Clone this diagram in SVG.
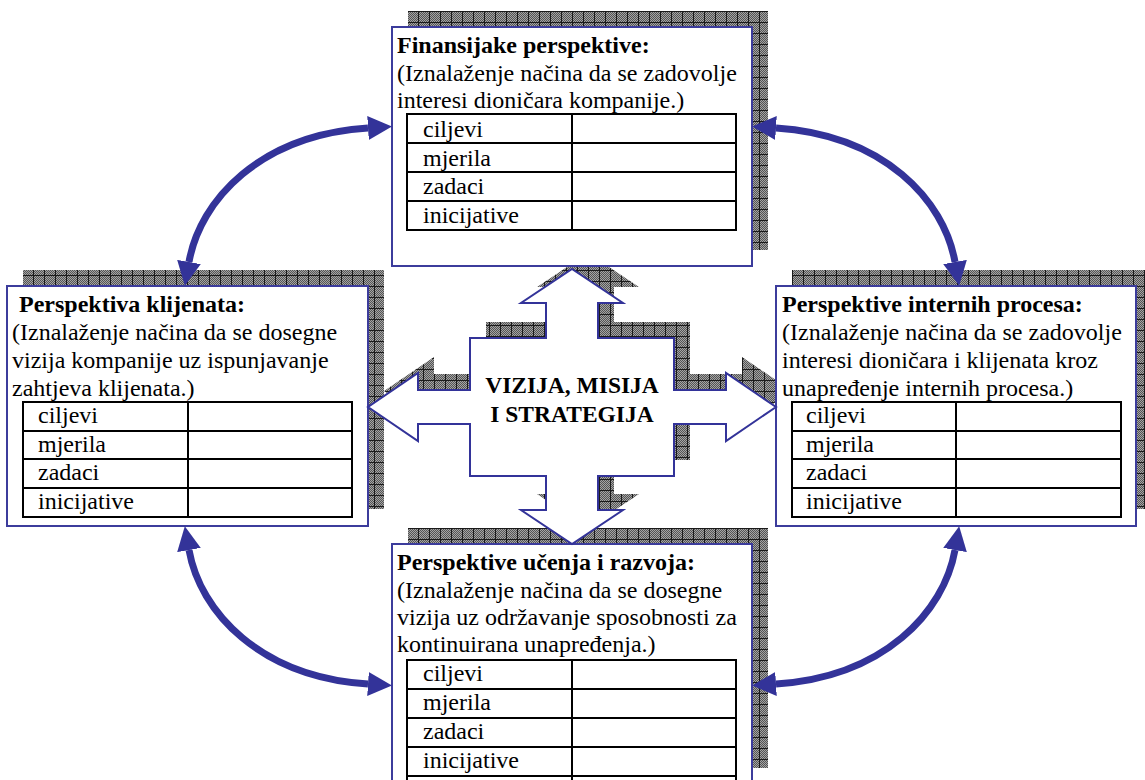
<svg xmlns="http://www.w3.org/2000/svg" width="1145" height="780" viewBox="0 0 1145 780">
<style>
.box{fill:#fff;stroke:#3c3c9c;stroke-width:2}
.tbl{fill:none;stroke:#000;stroke-width:2}
.shadow{fill:url(#grid);stroke:none}
.t{font-family:"Liberation Serif","Times New Roman",serif;font-size:24px;fill:#000}
.b{font-weight:bold}
.c{font-family:"Liberation Serif","Times New Roman",serif;font-size:23.5px;font-weight:bold;fill:#000;text-anchor:middle}
.conn{fill:none;stroke:#333399;stroke-width:7}
.center{fill:#fff;stroke:#333399;stroke-width:2;stroke-linejoin:miter}
</style>
<defs>
<pattern id="dither" width="2" height="2" patternUnits="userSpaceOnUse">
<rect width="2" height="2" fill="#a4a4a4"/>
<rect width="1" height="1" fill="#545454"/>
<rect x="1" y="1" width="1" height="1" fill="#545454"/>
</pattern>
<pattern id="grid" width="11" height="11" patternUnits="userSpaceOnUse">
<rect width="11" height="11" fill="url(#dither)"/>
<path d="M0.5 0V11M0 0.5H11" stroke="#1a1a1a" stroke-width="1"/>
</pattern>
<marker id="head" viewBox="0 -12 24 24" refX="0" refY="0" markerWidth="24" markerHeight="24" markerUnits="userSpaceOnUse" orient="auto-start-reverse">
<path d="M0 -12L24 0L0 12z" fill="#333399"/>
</marker>
</defs>

<g id="shadows">
<rect class="shadow" x="408" y="11" width="360" height="239"/>
<rect class="shadow" x="23" y="270" width="361" height="239"/>
<rect class="shadow" x="792" y="270" width="360" height="239"/>
<rect class="shadow" x="408" y="528" width="360" height="240"/>
<polygon class="shadow" transform="translate(16,-16)" points="572,269 623,303 598,303 598,338 674,338 674,390 726,390 726,373 776,407 726,441 726,424 674,424 674,476 598,476 598,510 623,510 572,544 521,510 546,510 546,476 470,476 470,424 418,424 418,441 368,407 418,373 418,390 470,390 470,338 546,338 546,303 521,303"/>
</g>

<g id="finansijske">
<rect class="box" x="392" y="27" width="360" height="239"/>
<text class="t b" x="397" y="53">Finansijake perspektive:</text>
<text class="t" x="397" y="81">(Iznalaženje načina da se zadovolje</text>
<text class="t" x="397" y="108">interesi dioničara kompanije.)</text>
<rect class="tbl" x="407" y="114" width="329" height="116"/>
<path class="tbl" d="M407 143H736M407 172H736M407 201H736M572 114V230"/>
<text class="t" x="423" y="137">ciljevi</text>
<text class="t" x="423" y="166">mjerila</text>
<text class="t" x="423" y="194">zadaci</text>
<text class="t" x="423" y="223">inicijative</text>
</g>

<g id="klijenti">
<rect class="box" x="7" y="286" width="361" height="240"/>
<text class="t b" x="19" y="312">Perspektiva klijenata:</text>
<text class="t" x="12" y="340">(Iznalaženje načina da se dosegne</text>
<text class="t" x="12" y="368">vizija kompanije uz ispunjavanje</text>
<text class="t" x="12" y="396">zahtjeva klijenata.)</text>
<rect class="tbl" x="23" y="402" width="329" height="115"/>
<path class="tbl" d="M23 431H352M23 459H352M23 488H352M188 402V517"/>
<text class="t" x="38" y="423">ciljevi</text>
<text class="t" x="38" y="452">mjerila</text>
<text class="t" x="38" y="480">zadaci</text>
<text class="t" x="38" y="509">inicijative</text>
</g>

<g id="interni">
<rect class="box" x="776" y="286" width="360" height="240"/>
<text class="t b" x="782" y="312">Perspektive internih procesa:</text>
<text class="t" x="782" y="340">(Iznalaženje načina da se zadovolje</text>
<text class="t" x="782" y="368">interesi dioničara i klijenata kroz</text>
<text class="t" x="782" y="396">unapređenje internih procesa.)</text>
<rect class="tbl" x="792" y="402" width="329" height="115"/>
<path class="tbl" d="M792 431H1121M792 459H1121M792 488H1121M956 402V517"/>
<text class="t" x="806" y="423">ciljevi</text>
<text class="t" x="806" y="452">mjerila</text>
<text class="t" x="806" y="480">zadaci</text>
<text class="t" x="806" y="509">inicijative</text>
</g>

<g id="ucenje">
<rect class="box" x="392" y="544" width="360" height="240"/>
<text class="t b" x="397" y="570">Perspektive učenja i razvoja:</text>
<text class="t" x="397" y="598">(Iznalaženje načina da se dosegne</text>
<text class="t" x="397" y="625">vizija uz održavanje sposobnosti za</text>
<text class="t" x="397" y="652">kontinuirana unapređenja.)</text>
<rect class="tbl" x="407" y="660" width="329" height="140"/>
<path class="tbl" d="M407 689H736M407 718H736M407 747H736M407 776H736M572 660V800"/>
<text class="t" x="423" y="681">ciljevi</text>
<text class="t" x="423" y="710">mjerila</text>
<text class="t" x="423" y="739">zadaci</text>
<text class="t" x="423" y="768">inicijative</text>
</g>

<g id="vizija">
<polygon class="center" points="572,269 623,303 598,303 598,338 674,338 674,390 726,390 726,373 776,407 726,441 726,424 674,424 674,476 598,476 598,510 623,510 572,544 521,510 546,510 546,476 470,476 470,424 418,424 418,441 368,407 418,373 418,390 470,390 470,338 546,338 546,303 521,303"/>
<text class="c" x="572" y="393">VIZIJA, MISIJA</text>
<text class="c" x="572" y="422">I STRATEGIJA</text>
</g>

<g id="connectors">
<path class="conn" d="M189 262C200 200 260 135 368 128" marker-start="url(#head)" marker-end="url(#head)"/>
<path class="conn" d="M955 262C944 200 884 135 776 128" marker-start="url(#head)" marker-end="url(#head)"/>
<path class="conn" d="M189 550C200 612 260 677 368 684" marker-start="url(#head)" marker-end="url(#head)"/>
<path class="conn" d="M955 550C944 612 884 677 776 684" marker-start="url(#head)" marker-end="url(#head)"/>
</g>
</svg>
